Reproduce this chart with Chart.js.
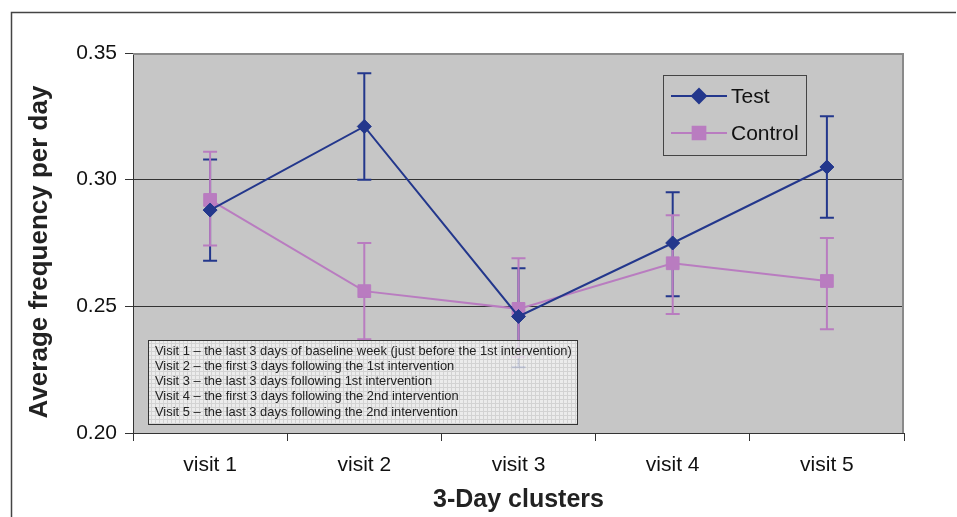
<!DOCTYPE html>
<html>
<head>
<meta charset="utf-8">
<script src="https://cdn.jsdelivr.net/npm/chart.js@4"></script>
<style>
body{margin:0;background:#fff;}
#wrap{position:relative;width:957px;height:517px;}
</style>
</head>
<body>
<div id="wrap"><canvas id="chart"></canvas></div>
<script>
// === DATA ===
const visits = ['visit 1', 'visit 2', 'visit 3', 'visit 4', 'visit 5'];
const testMean  = [0.288, 0.321, 0.246, 0.275, 0.305];
const testUpper = [0.308, 0.342, 0.265, 0.295, 0.325];
const testLower = [0.268, 0.300, 0.226, 0.254, 0.285];
const controlMean  = [0.292, 0.256, 0.249, 0.267, 0.260];
const controlUpper = [0.311, 0.275, 0.269, 0.286, 0.277];
const controlLower = [0.274, 0.237, 0.230, 0.247, 0.241];
const yTicks = [0.20, 0.25, 0.30, 0.35];
const yTitle = 'Average frequency per day';
const xTitle = '3-Day clusters';
const notes = [
    'Visit 1 \u2013 the last 3 days of baseline week (just before the 1st intervention)',
    'Visit 2 \u2013 the first 3 days following the 1st intervention',
    'Visit 3 \u2013 the last 3 days following 1st intervention',
    'Visit 4 \u2013 the first 3 days following the 2nd intervention',
    'Visit 5 \u2013 the last 3 days following the 2nd intervention'
];

const TEST_COL = '#23378c';
const CTRL_COL = '#b97cc0';
const PLOT_BG = '#c6c6c6';
const FONT = 'Liberation Sans, Arial, sans-serif';

// === PLUGINS ===
const framePlugin = {
    id: 'frame',
    beforeDraw(chart){
        const {ctx, chartArea: a} = chart;
        ctx.save();
        ctx.strokeStyle = '#444';
        ctx.lineWidth = 1.5;
        ctx.beginPath();
        ctx.moveTo(11.5, 517); ctx.lineTo(11.5, 12.5); ctx.lineTo(956, 12.5);
        ctx.stroke();
        ctx.fillStyle = PLOT_BG;
        ctx.fillRect(a.left, a.top, a.right-a.left, a.bottom-a.top);
        ctx.restore();
    },
    beforeDatasetsDraw(chart){
        const {ctx, chartArea: a} = chart;
        ctx.save();
        ctx.strokeStyle = '#8a8a8a';
        ctx.lineWidth = 2;
        ctx.beginPath();
        ctx.moveTo(a.left, a.top+1); ctx.lineTo(a.right-1, a.top+1); ctx.lineTo(a.right-1, a.bottom);
        ctx.stroke();
        // y axis title, drawn by hand so it sits where the original does
        ctx.fillStyle = '#222';
        ctx.font = 'bold 26px ' + FONT;
        ctx.textAlign = 'center';
        ctx.textBaseline = 'middle';
        ctx.translate(40, 252);
        ctx.rotate(-Math.PI/2);
        ctx.fillText(yTitle, 0, 0);
        ctx.restore();
    }
};

const errorBarPlugin = {
    id: 'errorBars',
    beforeDatasetsDraw(chart){
        const {ctx} = chart;
        const y = chart.scales.y;
        chart.data.datasets.forEach((ds, di)=>{
            const meta = chart.getDatasetMeta(di);
            ctx.save();
            ctx.strokeStyle = ds.borderColor;
            ctx.lineWidth = 2;
            meta.data.forEach((pt, i)=>{
                const yHi = y.getPixelForValue(ds.upper[i]);
                const yLo = y.getPixelForValue(ds.lower[i]);
                ctx.beginPath();
                ctx.moveTo(pt.x, yHi); ctx.lineTo(pt.x, yLo);
                ctx.moveTo(pt.x-7, yHi); ctx.lineTo(pt.x+7, yHi);
                ctx.moveTo(pt.x-7, yLo); ctx.lineTo(pt.x+7, yLo);
                ctx.stroke();
            });
            ctx.restore();
        });
    }
};

function makeGridPattern(ctx){
    const c = document.createElement('canvas');
    c.width = 4; c.height = 4;
    const p = c.getContext('2d');
    p.fillStyle = '#f4f4f4';
    p.fillRect(0,0,4,4);
    p.fillStyle = '#d6d6d6';
    p.fillRect(0,3,4,1);
    p.fillRect(3,0,1,4);
    return ctx.createPattern(c, 'repeat');
}

const overlayPlugin = {
    id: 'overlay',
    afterDraw(chart){
        const {ctx, chartArea: a} = chart;
        // notes box
        const bx = a.left + 15, by = 340, bw = 429, bh = 84;
        ctx.save();
        ctx.globalAlpha = 0.82;
        ctx.fillStyle = makeGridPattern(ctx);
        ctx.fillRect(bx, by, bw, bh);
        ctx.globalAlpha = 1;
        ctx.strokeStyle = '#333';
        ctx.lineWidth = 1;
        ctx.strokeRect(bx+0.5, by+0.5, bw, bh);
        ctx.fillStyle = '#222';
        ctx.font = '12.9px ' + FONT;
        ctx.textBaseline = 'middle';
        notes.forEach((t, i)=> ctx.fillText(t, bx+7, by+11 + i*15.3));

        // legend
        const lx = 663, ly = 75, lw = 143, lh = 80;
        ctx.strokeStyle = '#444';
        ctx.strokeRect(lx+0.5, ly+0.5, lw, lh);
        ctx.font = '21px ' + FONT;
        chart.data.datasets.forEach((ds, i)=>{
            const yy = ly + 21 + i*37;
            ctx.strokeStyle = ds.borderColor;
            ctx.lineWidth = 2;
            ctx.beginPath(); ctx.moveTo(lx+8, yy); ctx.lineTo(lx+64, yy); ctx.stroke();
            ctx.fillStyle = ds.borderColor;
            Chart.helpers.drawPoint(ctx, {pointStyle: ds.pointStyle, radius: ds.pointRadius, borderWidth: 1, rotation: 0}, lx+36, yy);
            ctx.fill();
            ctx.fillStyle = '#111';
            ctx.fillText(ds.label, lx+68, yy+1);
        });
        ctx.restore();
    }
};

// === CHART ===
const ctx = document.getElementById('chart').getContext('2d');
new Chart(ctx, {
    type: 'line',
    data: {
        labels: visits,
        datasets: [
            {label:'Test', data:testMean, upper:testUpper, lower:testLower,
             borderColor:TEST_COL, backgroundColor:TEST_COL, borderWidth:2,
             pointStyle:'rectRot', pointRadius:7, pointBorderWidth:1, tension:0},
            {label:'Control', data:controlMean, upper:controlUpper, lower:controlLower,
             borderColor:CTRL_COL, backgroundColor:CTRL_COL, borderWidth:2,
             pointStyle:'rect', pointRadius:9, pointBorderWidth:1, tension:0}
        ]
    },
    options: {
        responsive: true,
        maintainAspectRatio: false,
        animation: false,
        layout: {padding: {top: 53, right: 53, left: 0, bottom: 0}},
        plugins: {legend: {display: false}, tooltip: {enabled: false}},
        scales: {
            x: {
                offset: true,
                grid: {offset: true, drawOnChartArea: false, tickLength: 8, tickColor: '#333'},
                border: {color: '#333', width: 1},
                ticks: {color: '#111', font: {family: FONT, size: 21}, padding: 12, maxRotation: 0},
                title: {display: true, text: xTitle, color: '#222',
                        font: {family: FONT, size: 25, weight: 'bold'}, padding: {top: 0, bottom: 2}},
                afterFit: s => { s.height = 84; }
            },
            y: {
                min: 0.2, max: 0.35,
                afterBuildTicks: s => { s.ticks = yTicks.map(v => ({value: v})); },
                grid: {
                    color: c => (c.tick && c.tick.value > 0.34) ? '#8a8a8a' : '#333',
                    tickColor: '#333', tickLength: 8
                },
                border: {color: '#333', width: 1},
                ticks: {color: '#111', font: {family: FONT, size: 21}, padding: 8,
                        callback: v => v.toFixed(2)},
                title: {display: false},
                afterFit: s => { s.width = 133; }
            }
        }
    },
    plugins: [framePlugin, errorBarPlugin, overlayPlugin]
});
</script>
</body>
</html>
